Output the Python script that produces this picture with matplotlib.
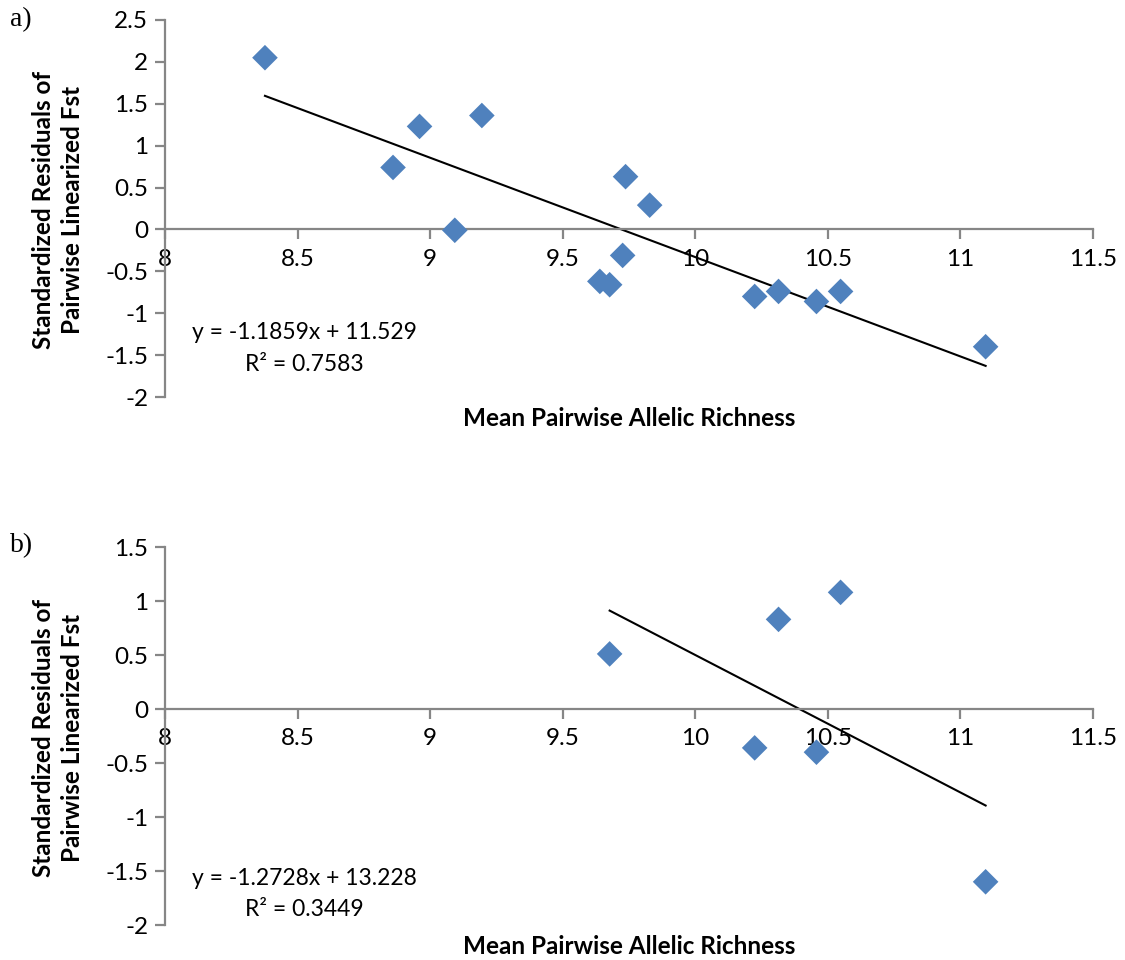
import numpy as np
import matplotlib
matplotlib.use("Agg")
import matplotlib.pyplot as plt

plt.rcParams['font.family'] = ['Lato', 'DejaVu Sans']

# panel a: all pairs
rich_a = [8.377, 8.86, 8.96, 9.093, 9.195, 9.737, 9.828, 9.726, 9.64, 9.677,
          10.224, 10.314, 10.457, 10.548, 11.095]
resid_a = [2.05, 0.74, 1.23, -0.01, 1.36, 0.63, 0.29, -0.31, -0.62, -0.66,
           -0.80, -0.74, -0.86, -0.74, -1.40]
slope_a, icpt_a, r2_a = -1.1859, 11.529, 0.7583

# panel b: subset
rich_b = [9.677, 10.314, 10.548, 10.224, 10.457, 11.095]
resid_b = [0.51, 0.83, 1.08, -0.36, -0.40, -1.60]
slope_b, icpt_b, r2_b = -1.2728, 13.228, 0.3449

xticks = [8, 8.5, 9, 9.5, 10, 10.5, 11, 11.5]
ylab = 'Standardized Residuals of\nPairwise Linearized Fst'
xlab = 'Mean Pairwise Allelic Richness'

axis_col = '#868686'
blue = '#4F81BD'

fig = plt.figure(figsize=(11.25, 9.6), dpi=100)
W, H = 1125, 960

def panel(box, x, y, slope, icpt, r2, ylim, yticks, tag, tag_y, eq_y, r2_y):
    left, top, right, bottom = box
    ax = fig.add_axes([left / W, 1 - bottom / H, (right - left) / W, (bottom - top) / H])
    ax.scatter(x, y, marker='D', s=170, color=blue, edgecolors='none', zorder=3)
    xs = np.array([min(x), max(x)])
    ax.plot(xs, slope * xs + icpt, color='black', lw=1.5, zorder=2)
    ax.set_xlim(8, 11.5)
    ax.set_ylim(*ylim)
    ax.set_xticks(xticks)
    ax.set_xticklabels([f'{t:g}' for t in xticks])
    ax.set_yticks(yticks)
    ax.set_yticklabels([f'{t:g}' for t in yticks])
    for s in ['top', 'right']:
        ax.spines[s].set_visible(False)
    ax.spines['bottom'].set_position(('data', 0))
    for s in ['left', 'bottom']:
        ax.spines[s].set_color(axis_col)
        ax.spines[s].set_linewidth(1.6)
    ax.tick_params(axis='both', direction='out', length=7, width=1.6, color=axis_col,
                   labelsize=17.5, labelcolor='black')
    ax.tick_params(axis='x', pad=7)
    ax.tick_params(axis='y', pad=5)
    ax.text((58 - left) / (right - left), 0.495, ylab, transform=ax.transAxes,
            rotation=90, ha='center', va='center', fontsize=17.5, fontweight='bold',
            linespacing=1.3)
    ax.text(0.5, -0.058, xlab, transform=ax.transAxes, ha='center', va='center',
            fontsize=17.5, fontweight='bold')
    ex = (304 - left) / (right - left)
    ax.text(ex, eq_y, f'y = {slope}x + {icpt}', transform=ax.transAxes,
            ha='center', va='center', fontsize=16.5)
    ax.text(ex, r2_y, f'R² = {r2}', transform=ax.transAxes,
            ha='center', va='center', fontsize=16.5)
    fig.text(10 / W, 1 - tag_y / H, tag, family='Liberation Serif',
             fontsize=20, va='center', ha='left')
    return ax

panel((165, 20, 1093, 397), rich_a, resid_a, slope_a, icpt_a, r2_a,
      (-2, 2.5), np.arange(-2, 2.51, 0.5), 'a)', 20, 0.170, 0.085)
panel((165, 547, 1093, 925), rich_b, resid_b, slope_b, icpt_b, r2_b,
      (-2, 1.5), np.arange(-2, 1.51, 0.5), 'b)', 546, 0.124, 0.040)

fig.savefig('out.png', dpi=100)
